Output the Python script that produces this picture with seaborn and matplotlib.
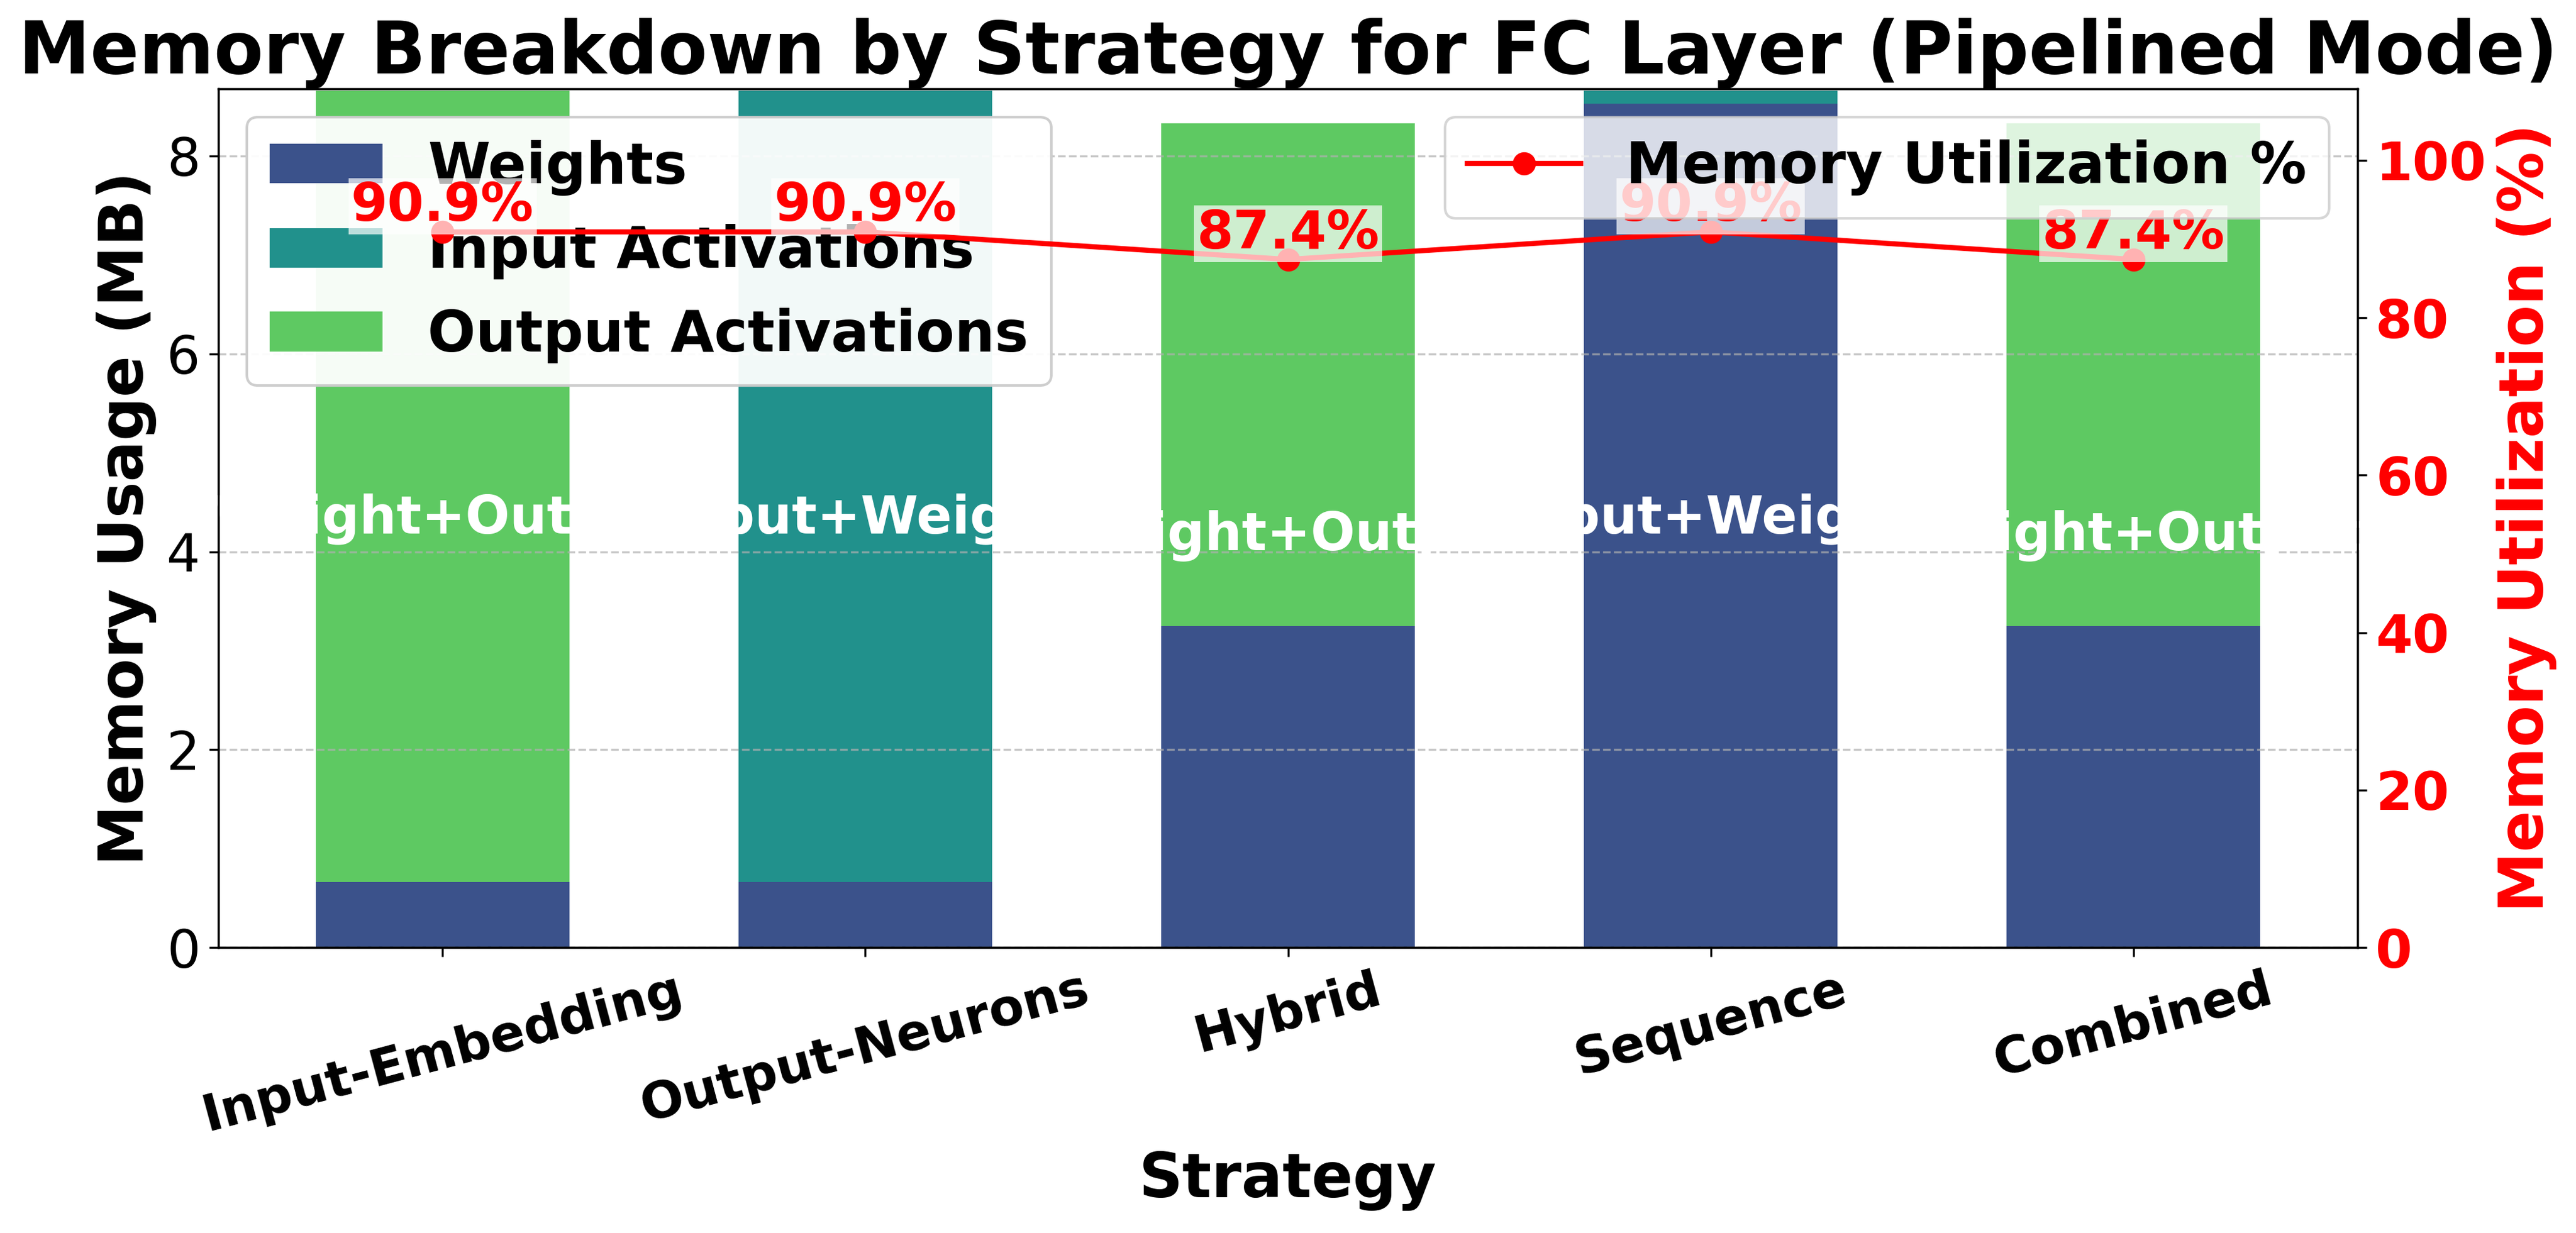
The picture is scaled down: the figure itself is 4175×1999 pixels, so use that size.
import matplotlib
matplotlib.use("Agg")
import matplotlib.pyplot as plt
import seaborn as sns
import numpy as np
import pandas as pd

# ---------------- data ----------------
strategies = ["Input-Embedding", "Output-Neurons", "Hybrid", "Sequence", "Combined"]
weights_mb = [0.66, 0.66, 3.25, 8.53, 3.25]
input_act_mb = [0.00, 8.00, 0.00, 0.13, 0.00]
output_act_mb = [8.00, 0.00, 5.08, 0.00, 5.08]
utilization_pct = [90.9, 90.9, 87.4, 90.9, 87.4]
bar_labels = ["Weight+Output", "Input+Weight", "Weight+Output", "Input+Weight", "Weight+Output"]
series_names = ["Weights", "Input Activations", "Output Activations"]
left_yticks = [0, 2, 4, 6, 8]
right_yticks = [0, 20, 40, 60, 80, 100]

colors = sns.color_palette("viridis", 3)

df = pd.DataFrame({
    "Strategy": strategies,
    "Weights": weights_mb,
    "Input Activations": input_act_mb,
    "Output Activations": output_act_mb,
})
df["cum_w"] = df["Weights"]
df["cum_wi"] = df["cum_w"] + df["Input Activations"]
df["cum_wio"] = df["cum_wi"] + df["Output Activations"]

fig = plt.figure(figsize=(4175 / 300, 1999 / 300), dpi=300)
ax1 = fig.add_axes([0.0848, 0.2316, 0.8304, 0.6964])

# stacked bars drawn top-down as cumulative layers
layer_cols = ["cum_wio", "cum_wi", "cum_w"]
layer_names = ["Output Activations", "Input Activations", "Weights"]
layer_colors = [colors[2], colors[1], colors[0]]
for col, name, c in zip(layer_cols, layer_names, layer_colors):
    sns.barplot(data=df, x="Strategy", y=col, color=c, width=0.6, saturation=1,
                linewidth=0, errorbar=None, ax=ax1, label=name)

totals = df["cum_wio"].to_numpy()
ax1.set_ylim(0, 8.68)
ax1.set_yticks(left_yticks)
ax1.tick_params(axis="y", labelsize=20.6)
ax1.set_xticks(range(len(strategies)))
ax1.set_xticklabels(strategies, rotation=15, ha="center", fontsize=19.8, fontweight="bold")
ax1.set_xlabel("Strategy", fontsize=23.7, fontweight="bold")
ax1.set_ylabel("Memory Usage (MB)", fontsize=23.7, fontweight="bold")
ax1.grid(axis="y", linestyle="--", alpha=0.7)
ax1.grid(axis="x", visible=False)

for i, (tot, lab) in enumerate(zip(totals, bar_labels)):
    ax1.text(i, tot / 2, lab, ha="center", va="center", color="white",
             fontsize=20.3, fontweight="bold")

handles, labels = ax1.get_legend_handles_labels()
hmap = dict(zip(labels, handles))
ax1.legend([hmap[n] for n in series_names], series_names, loc="upper left",
           prop={"weight": "bold", "size": 22}, framealpha=0.95)

ax1.set_title("Memory Breakdown by Strategy for FC Layer (Pipelined Mode)",
              fontsize=28, fontweight="bold")

# ---------------- utilization line ----------------
ax2 = ax1.twinx()
xpos = np.arange(len(strategies))
sns.lineplot(x=xpos, y=utilization_pct, ax=ax2, color="red", marker="o",
             linewidth=2, markersize=8, markeredgecolor="red", markeredgewidth=1,
             label="Memory Utilization %")
ax2.set_ylim(0, max(utilization_pct) * 1.2)
ax2.set_yticks(right_yticks)
ax2.set_ylabel("Memory Utilization (%)", fontsize=23.7, fontweight="bold", color="red")
ax2.tick_params(axis="y", labelcolor="red", labelsize=20.6)
for t in ax2.get_yticklabels():
    t.set_fontweight("bold")
ax2.grid(False)

for i, v in enumerate(utilization_pct):
    ax2.text(i, v, f"{v}%", ha="center", va="bottom", color="red",
             fontsize=20.5, fontweight="bold",
             bbox=dict(facecolor="white", alpha=0.7, edgecolor="none",
                       boxstyle="square,pad=0.05"))

ax2.legend(loc="upper right", prop={"weight": "bold", "size": 22})

fig.savefig("out.png", dpi=300)
